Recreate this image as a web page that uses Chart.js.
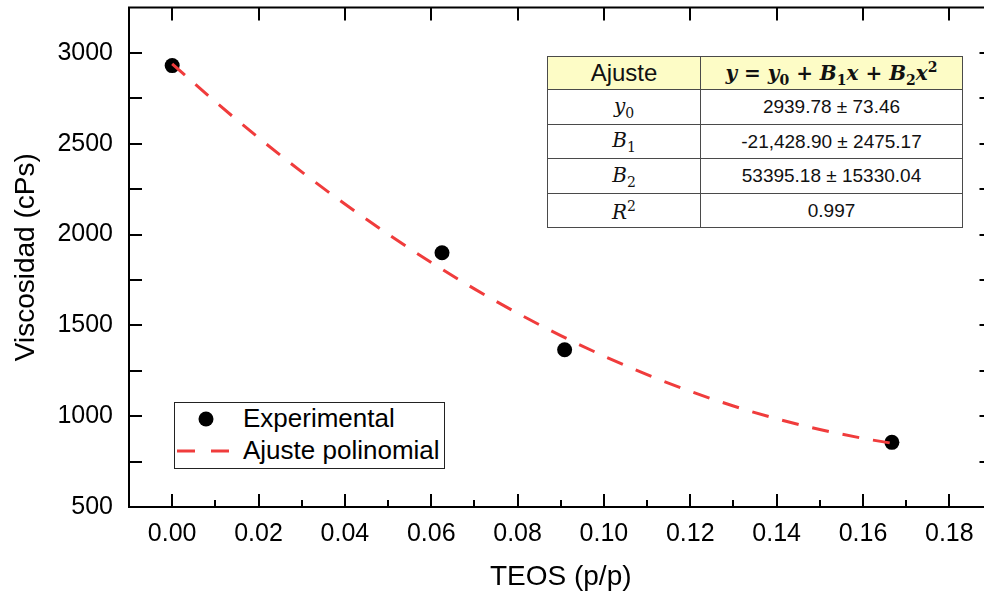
<!DOCTYPE html>
<html>
<head>
<meta charset="utf-8">
<script src="https://cdn.jsdelivr.net/npm/chart.js@4"></script>
<style>
  html, body { margin: 0; padding: 0; background: #fff; overflow: hidden; }
  #wrap { position: relative; width: 984px; height: 598px; overflow: hidden; }
  #c { position: absolute; left: 0; top: 0; }
  .legend {
    position: absolute; left: 174px; top: 402px; width: 271px; height: 67px;
    box-sizing: border-box; border: 1.5px solid #222; background: #fff;
    font-family: "Liberation Sans", Arial, sans-serif; font-size: 26px; color: #000;
  }
  .legend .item { position: absolute; left: 0; width: 100%; height: 30px; }
  .legend .item span { position: absolute; left: 68px; top: 50%; transform: translateY(-52%); white-space: nowrap; }
  .legend svg { position: absolute; left: 0; top: 0; }
  table.fit {
    position: absolute; left: 547px; top: 56px; width: 415px; height: 171px;
    border-collapse: collapse; table-layout: fixed; background: #fff;
  }
  table.fit td {
    border: 1.5px solid #4a4a4a; text-align: center; padding: 0; color: #111;
    font-family: "Liberation Sans", Arial, sans-serif; font-size: 19px;
  }
  table.fit tr.head td { background: #fdfcc6; }
  table.fit td.hl { font-size: 24px; }
  table.fit td.eq { font-family: "DejaVu Serif", "Liberation Serif", serif; font-weight: bold; font-style: italic; font-size: 20px; }
  table.fit td.eq sub, table.fit td.eq sup { font-style: normal; font-size: 14px; }
  table.fit td.sym { font-family: "DejaVu Serif", "Liberation Serif", serif; font-style: italic; font-size: 20px; }
  table.fit td.sym sub, table.fit td.sym sup { font-style: normal; font-size: 14px; }
</style>
</head>
<body>
<div id="wrap">
  <canvas id="c" width="1000" height="598"></canvas>

  <table class="fit">
    <colgroup><col style="width:153px"><col style="width:262px"></colgroup>
    <tr class="head" style="height:33px"><td class="hl">Ajuste</td><td class="eq">y = y<sub>0</sub> + B<sub>1</sub>x + B<sub>2</sub>x<sup>2</sup></td></tr>
    <tr style="height:35px"><td class="sym">y<sub>0</sub></td><td>2939.78 ± 73.46</td></tr>
    <tr style="height:34px"><td class="sym">B<sub>1</sub></td><td>-21,428.90 ± 2475.17</td></tr>
    <tr style="height:35px"><td class="sym">B<sub>2</sub></td><td>53395.18 ± 15330.04</td></tr>
    <tr style="height:34px"><td class="sym">R<sup>2</sup></td><td>0.997</td></tr>
  </table>

  <div class="legend">
    <div class="item" style="top:1px">
      <svg width="60" height="30"><circle cx="31" cy="15" r="7.5" fill="#000"/></svg>
      <span>Experimental</span>
    </div>
    <div class="item" style="top:33px">
      <svg width="60" height="30"><line x1="2" y1="15" x2="56" y2="15" stroke="#f03c3c" stroke-width="3" stroke-dasharray="18 16"/></svg>
      <span>Ajuste polinomial</span>
    </div>
  </div>
</div>

<script>
// Tick labels on each axis
const xTickValues = [0, 0.02, 0.04, 0.06, 0.08, 0.10, 0.12, 0.14, 0.16, 0.18];
const yTickValues = [500, 1000, 1500, 2000, 2500, 3000];

// Measured viscosity vs TEOS content
const teos = [0, 0.0625, 0.0909, 0.1667];
const viscosity = [2930, 1900, 1366, 856];

// Quadratic fit y = y0 + B1 x + B2 x^2 sampled along the TEOS range
const fitTeos = [0, 0.01, 0.02, 0.03, 0.04, 0.05, 0.06, 0.07, 0.08, 0.09, 0.10, 0.11, 0.12, 0.13, 0.14, 0.15, 0.16, 0.1667];
const fitViscosity = [2940, 2731, 2533, 2345, 2168, 2002, 1846, 1701, 1567, 1444, 1331, 1229, 1137, 1056, 986, 927, 878, 851];

const FONT = '"Liberation Sans", Arial, sans-serif';

// Closed frame with inward tick marks on all four sides
const framePlugin = {
  id: 'frame',
  afterDatasetsDraw(chart) {
    const { ctx, chartArea: a, scales: { x, y } } = chart;
    ctx.save();
    ctx.strokeStyle = '#000';
    ctx.lineWidth = 2;
    ctx.beginPath();
    xTickValues.forEach(v => {
      const p = Math.round(x.getPixelForValue(v));
      ctx.moveTo(p, a.bottom); ctx.lineTo(p, a.bottom - 13);
      ctx.moveTo(p, a.top); ctx.lineTo(p, a.top + 13);
      const m = Math.round(x.getPixelForValue(v + 0.01));
      if (v + 0.01 < x.max - 1e-9) { ctx.moveTo(m, a.bottom); ctx.lineTo(m, a.bottom - 7); }
    });
    for (let v = y.min + 250; v < y.max; v += 250) {
      const p = Math.round(y.getPixelForValue(v));
      ctx.moveTo(a.left, p); ctx.lineTo(a.left + 13, p);
      ctx.moveTo(a.right, p); ctx.lineTo(a.right - 13, p);
    }
    ctx.stroke();
    ctx.strokeRect(a.left, a.top, a.right - a.left, a.bottom - a.top);
    ctx.restore();
  }
};

new Chart(document.getElementById('c'), {
  type: 'scatter',
  data: {
    datasets: [
      {
        label: 'Ajuste polinomial',
        data: fitTeos.map((t, i) => ({ x: t, y: fitViscosity[i] })),
        showLine: true,
        borderColor: '#f03c3c',
        borderWidth: 3,
        borderDash: [17, 14],
        pointRadius: 0,
        cubicInterpolationMode: 'monotone',
        fill: false,
        order: 0
      },
      {
        label: 'Experimental',
        data: teos.map((t, i) => ({ x: t, y: viscosity[i] })),
        backgroundColor: '#000',
        borderWidth: 0,
        pointRadius: 7.5,
        order: 1
      }
    ]
  },
  options: {
    responsive: false,
    animation: false,
    layout: { padding: { top: 7, right: 6, left: 0, bottom: 0 } },
    plugins: { legend: { display: false }, tooltip: { enabled: false } },
    scales: {
      x: {
        type: 'linear', min: -0.01, max: 0.19,
        afterBuildTicks: s => { s.ticks = xTickValues.map(v => ({ value: v })); },
        afterFit: s => { s.height = 91; s.paddingLeft = 0; s.paddingRight = 0; },
        grid: { display: false, drawTicks: false },
        border: { display: false },
        ticks: { padding: 12, color: '#000', autoSkip: false, maxRotation: 0,
                 font: { family: FONT, size: 25 }, callback: v => Number(v).toFixed(2) },
        title: { display: true, text: 'TEOS (p/p)', color: '#000',
                 font: { family: FONT, size: 28 }, padding: { top: 0, bottom: 4 } }
      },
      y: {
        type: 'linear', min: 500, max: 3250,
        afterBuildTicks: s => { s.ticks = yTickValues.map(v => ({ value: v })); },
        afterFit: s => { s.width = 129; s.paddingTop = 0; s.paddingBottom = 0; },
        grid: { display: false, drawTicks: false },
        border: { display: false },
        ticks: { padding: 16, color: '#000', autoSkip: false,
                 font: { family: FONT, size: 25 }, callback: v => String(v) },
        title: { display: true, text: 'Viscosidad (cPs)', color: '#000',
                 font: { family: FONT, size: 28 }, padding: { top: 9, bottom: 0 } }
      }
    }
  },
  plugins: [framePlugin]
});
</script>
</body>
</html>
